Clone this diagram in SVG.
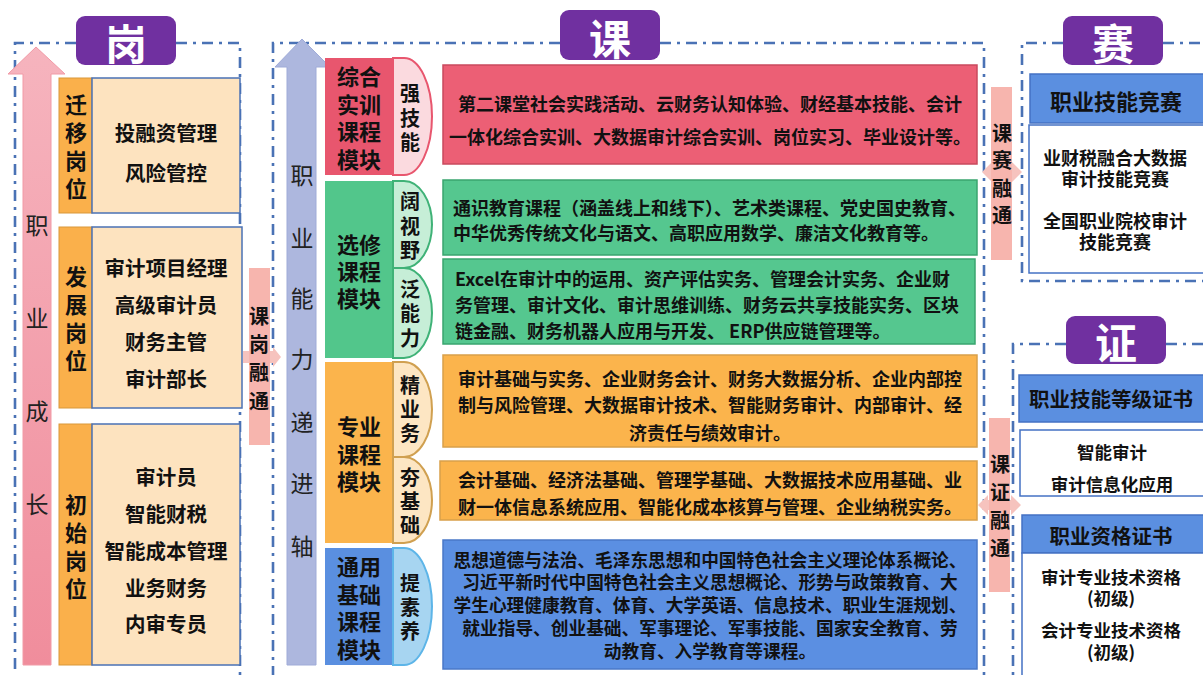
<svg xmlns="http://www.w3.org/2000/svg" width="1203" height="675" viewBox="0 0 1203 675">
<defs>
<style>
text{font-family:"Noto Sans CJK SC","Noto Sans CJK TC",sans-serif;fill:#111;dominant-baseline:central;}
.b{font-weight:bold;}
.c{text-anchor:middle;}
.frame{fill:none;stroke:#4a72b5;stroke-width:2.6;stroke-dasharray:11 6 3 6;}
.title{fill:#7030a0;}
.tt{fill:#fff;font-weight:bold;font-size:42px;text-anchor:middle;}
.axis{font-size:23px;text-anchor:middle;fill:#222;}
.lab{fill:#fab04b;stroke:#d9983a;stroke-width:1;}
.peach{fill:#fde3bf;stroke:#4a72b5;stroke-width:1.5;}
.lt{font-size:22px;font-weight:bold;text-anchor:middle;}
.it{font-size:20.5px;font-weight:bold;text-anchor:middle;}
.mt{font-size:22px;font-weight:bold;text-anchor:middle;}
.pt{font-size:20px;font-weight:bold;text-anchor:middle;}
.ct{font-size:18px;font-weight:bold;}
.ctb{font-size:17.7px;font-weight:bold;text-anchor:middle;}
.hd{fill:#5b8fe0;stroke:#4472c4;stroke-width:1.5;}
.wb{fill:#fff;stroke:#4472c4;stroke-width:1.5;}
.link{fill:#f7b5ae;}
.larr{fill:#f6c3be;}
.lk{font-size:20px;font-weight:bold;text-anchor:middle;}
</style>
<linearGradient id="pinkG" x1="0" y1="0" x2="0" y2="1">
<stop offset="0" stop-color="#f6b4be"/>
<stop offset="1" stop-color="#f08d9c"/>
</linearGradient>
</defs>
<rect width="1203" height="675" fill="#fff"/>

<g id="frames">
<path class="frame" d="M76,43 H15 V680 M176,43 H240 V680"/>
<path class="frame" d="M560,43 H273 V680 M660,43 H984 V680"/>
<path class="frame" d="M1063,43 H1022 V281 H1203 M1163,43 H1203"/>
<path class="frame" d="M1066,344 H1013 V680 M1166,344 H1203"/>
</g>

<g id="titles">
<g id="title-gang"><rect class="title" x="76" y="16" width="100" height="49" rx="9"/><text class="tt" x="126" y="41">岗</text></g>
<g id="title-ke"><rect class="title" x="560" y="10" width="100" height="50" rx="9"/><text class="tt" x="610" y="36">课</text></g>
<g id="title-sai"><rect class="title" x="1063" y="16" width="100" height="49" rx="9"/><text class="tt" x="1113" y="41">赛</text></g>
<g id="title-zheng"><rect class="title" x="1066" y="316" width="100" height="48" rx="9"/><text class="tt" x="1116" y="340">证</text></g>
</g>

<g id="axis-career">
<path d="M36,47 L65,74 L51,74 L51,665 L23,665 L23,74 L8,74 Z" fill="url(#pinkG)" stroke="#f19aa6" stroke-width="1"/>
<text class="axis" x="37" y="224">职</text>
<text class="axis" x="37" y="317">业</text>
<text class="axis" x="37" y="410">成</text>
<text class="axis" x="37" y="503">长</text>
</g>

<g id="axis-ability">
<path d="M302,39 L330,67 L316,67 L316,665 L287,665 L287,67 L275,67 Z" fill="#adb7de" stroke="#9fabd8" stroke-width="1"/>
<text class="axis" x="302" y="174">职</text>
<text class="axis" x="302" y="237">业</text>
<text class="axis" x="302" y="297">能</text>
<text class="axis" x="302" y="358">力</text>
<text class="axis" x="302" y="421">递</text>
<text class="axis" x="302" y="482">进</text>
<text class="axis" x="302" y="545">轴</text>
</g>

<g id="post-transfer">
<rect class="lab" x="59" y="78" width="33" height="135"/>
<rect class="peach" x="92" y="78" width="148" height="135"/>
<text class="lt" x="76" y="103">迁</text><text class="lt" x="76" y="131">移</text><text class="lt" x="76" y="159">岗</text><text class="lt" x="76" y="187">位</text>
<text class="it" x="166" y="132">投融资管理</text>
<text class="it" x="166" y="172">风险管控</text>
</g>

<g id="post-develop">
<rect class="lab" x="59" y="227" width="33" height="181"/>
<rect class="peach" x="92" y="227" width="150" height="181"/>
<text class="lt" x="76" y="275">发</text><text class="lt" x="76" y="303">展</text><text class="lt" x="76" y="331">岗</text><text class="lt" x="76" y="359">位</text>
<text class="it" x="166" y="267">审计项目经理</text>
<text class="it" x="166" y="304">高级审计员</text>
<text class="it" x="166" y="341">财务主管</text>
<text class="it" x="166" y="378">审计部长</text>
</g>

<g id="post-initial">
<rect class="lab" x="59" y="424" width="33" height="241"/>
<rect class="peach" x="92" y="424" width="148" height="241"/>
<text class="lt" x="76" y="503">初</text><text class="lt" x="76" y="531">始</text><text class="lt" x="76" y="559">岗</text><text class="lt" x="76" y="587">位</text>
<text class="it" x="166" y="476">审计员</text>
<text class="it" x="166" y="513">智能财税</text>
<text class="it" x="166" y="550">智能成本管理</text>
<text class="it" x="166" y="587">业务财务</text>
<text class="it" x="166" y="623">内审专员</text>
</g>

<g id="module-practice">
<rect x="325" y="58" width="70" height="117" fill="#e8566e"/>
<path d="M393,58 H404 A28,58.5 0 0 1 404,175 H393 Z" fill="#fbdadf" stroke="#e8566e" stroke-width="2"/>
<text class="mt" x="359" y="75">综合</text><text class="mt" x="359" y="103">实训</text><text class="mt" x="359" y="130">课程</text><text class="mt" x="359" y="158">模块</text>
<text class="pt" x="410" y="92">强</text><text class="pt" x="410" y="117">技</text><text class="pt" x="410" y="141">能</text>
<rect x="443" y="65" width="534" height="99" fill="#ec5f75" stroke="#c94a5e" stroke-width="1.5"/>
<text class="ct c" x="710" y="103">第二课堂社会实践活动、云财务认知体验、财经基本技能、会计</text>
<text class="ct c" x="710" y="136">一体化综合实训、大数据审计综合实训、岗位实习、毕业设计等。</text>
</g>

<g id="module-elective">
<rect x="325" y="181" width="70" height="177" fill="#52c68b"/>
<path d="M393,181 H404 A28,43.5 0 0 1 404,268 H393 Z" fill="#c6eed7" stroke="#3fb277" stroke-width="2"/>
<path d="M393,268 H404 A28,45 0 0 1 404,358 H393 Z" fill="#c6eed7" stroke="#3fb277" stroke-width="2"/>
<text class="mt" x="359" y="243">选修</text><text class="mt" x="359" y="270">课程</text><text class="mt" x="359" y="297">模块</text>
<text class="pt" x="410" y="200">阔</text><text class="pt" x="410" y="225">视</text><text class="pt" x="410" y="249">野</text>
<text class="pt" x="410" y="288">泛</text><text class="pt" x="410" y="312">能</text><text class="pt" x="410" y="337">力</text>
<rect x="443" y="180" width="534" height="75" fill="#55c78f" stroke="#3aa56f" stroke-width="1.5"/>
<text class="ct" x="453" y="207">通识教育课程（涵盖线上和线下）、艺术类课程、党史国史教育、</text>
<text class="ct" x="453" y="232">中华优秀传统文化与语文、高职应用数学、廉洁文化教育等。</text>
<rect x="443" y="259" width="532" height="85" fill="#55c78f" stroke="#3aa56f" stroke-width="1.5"/>
<text class="ct" x="455" y="278">Excel在审计中的运用、资产评估实务、管理会计实务、企业财</text>
<text class="ct" x="455" y="304">务管理、审计文化、审计思维训练、财务云共享技能实务、区块</text>
<text class="ct" x="455" y="330">链金融、财务机器人应用与开发、 ERP供应链管理等。</text>
</g>

<g id="module-professional">
<rect x="325" y="362" width="70" height="181" fill="#fbb44c"/>
<path d="M393,362 H404 A28,47.5 0 0 1 404,457 H393 Z" fill="#fde6c3" stroke="#d0a050" stroke-width="2"/>
<path d="M393,457 H404 A28,43 0 0 1 404,543 H393 Z" fill="#fde6c3" stroke="#d0a050" stroke-width="2"/>
<text class="mt" x="359" y="425">专业</text><text class="mt" x="359" y="453">课程</text><text class="mt" x="359" y="480">模块</text>
<text class="pt" x="410" y="384">精</text><text class="pt" x="410" y="408">业</text><text class="pt" x="410" y="432">务</text>
<text class="pt" x="410" y="476">夯</text><text class="pt" x="410" y="500">基</text><text class="pt" x="410" y="524">础</text>
<rect x="443" y="355" width="534" height="92" fill="#fbb44c" stroke="#d9a04a" stroke-width="1.5"/>
<text class="ct c" x="710" y="378">审计基础与实务、企业财务会计、财务大数据分析、企业内部控</text>
<text class="ct c" x="710" y="404">制与风险管理、大数据审计技术、智能财务审计、内部审计、经</text>
<text class="ct c" x="710" y="432">济责任与绩效审计。</text>
<rect x="440" y="461" width="537" height="59" fill="#fbb44c" stroke="#d9a04a" stroke-width="1.5"/>
<text class="ct c" x="710" y="479">会计基础、经济法基础、管理学基础、大数据技术应用基础、业</text>
<text class="ct c" x="710" y="506">财一体信息系统应用、智能化成本核算与管理、企业纳税实务。</text>
</g>

<g id="module-general">
<rect x="325" y="548" width="70" height="117" fill="#5a8fe0"/>
<path d="M393,548 H404 A28,58.5 0 0 1 404,665 H393 Z" fill="#a7d5f1" stroke="#5db5e8" stroke-width="2"/>
<text class="mt" x="359" y="565">通用</text><text class="mt" x="359" y="593">基础</text><text class="mt" x="359" y="620">课程</text><text class="mt" x="359" y="648">模块</text>
<text class="pt" x="410" y="582">提</text><text class="pt" x="410" y="606">素</text><text class="pt" x="410" y="630">养</text>
<rect x="443" y="540" width="534" height="129" fill="#5b8fe2" stroke="#4a78c8" stroke-width="1.5"/>
<text class="ctb" x="710" y="559">思想道德与法治、毛泽东思想和中国特色社会主义理论体系概论、</text>
<text class="ctb" x="710" y="581">习近平新时代中国特色社会主义思想概论、形势与政策教育、大</text>
<text class="ctb" x="710" y="604">学生心理健康教育、体育、大学英语、信息技术、职业生涯规划、</text>
<text class="ctb" x="710" y="627">就业指导、创业基础、军事理论、军事技能、国家安全教育、劳</text>
<text class="ctb" x="710" y="650">动教育、入学教育等课程。</text>
</g>

<g id="competition">
<rect class="hd" x="1030" y="74" width="175" height="49"/>
<text class="b c" x="1116" y="100" font-size="22">职业技能竞赛</text>
<rect class="wb" x="1029" y="125" width="176" height="148"/>
<text class="b c" x="1115" y="157" font-size="18">业财税融合大数据</text>
<text class="b c" x="1115" y="178" font-size="18">审计技能竞赛</text>
<text class="b c" x="1115" y="220" font-size="18">全国职业院校审计</text>
<text class="b c" x="1115" y="241" font-size="18">技能竞赛</text>
</g>

<g id="cert-skill">
<rect class="hd" x="1019" y="375" width="186" height="47"/>
<text class="b c" x="1111" y="398" font-size="20.5">职业技能等级证书</text>
<rect class="wb" x="1020" y="430" width="185" height="66"/>
<text class="b c" x="1112" y="451" font-size="17.5">智能审计</text>
<text class="b c" x="1112" y="483" font-size="17.5">审计信息化应用</text>
</g>

<g id="cert-qualification">
<rect class="hd" x="1022" y="515" width="183" height="38"/>
<text class="b c" x="1111" y="535" font-size="20.5">职业资格证书</text>
<rect class="wb" x="1022" y="553" width="183" height="125"/>
<text class="b c" x="1111" y="576" font-size="17.5">审计专业技术资格</text>
<text class="b c" x="1111" y="597" font-size="17.5">(初级)</text>
<text class="b c" x="1111" y="629" font-size="17.5">会计专业技术资格</text>
<text class="b c" x="1111" y="651" font-size="17.5">(初级)</text>
</g>

<g id="connectors">
<g id="link-ke-gang">
<path class="larr" d="M243,351 H273 V347 L281,357 L273,367 V363 H243 Z"/>
<rect class="link" x="249" y="268" width="21" height="177"/>
<text class="lk" x="259" y="315">课</text><text class="lk" x="259" y="343">岗</text><text class="lk" x="259" y="371">融</text><text class="lk" x="259" y="400">通</text>
</g>
<g id="link-ke-sai">
<path class="larr" d="M982,172 L992,162 V167 H1012 V162 L1022,172 L1012,182 V177 H992 V182 Z"/>
<rect class="link" x="991" y="87" width="21" height="173"/>
<text class="lk" x="1002" y="132">课</text><text class="lk" x="1002" y="159">赛</text><text class="lk" x="1002" y="187">融</text><text class="lk" x="1002" y="214">通</text>
</g>
<g id="link-ke-zheng">
<path class="larr" d="M978,505 L988,495 V500 H1011 V495 L1021,505 L1011,515 V510 H988 V515 Z"/>
<rect class="link" x="989" y="418" width="21" height="174"/>
<text class="lk" x="1000" y="463">课</text><text class="lk" x="1000" y="491">证</text><text class="lk" x="1000" y="519">融</text><text class="lk" x="1000" y="547">通</text>
</g>
</g>
</svg>
